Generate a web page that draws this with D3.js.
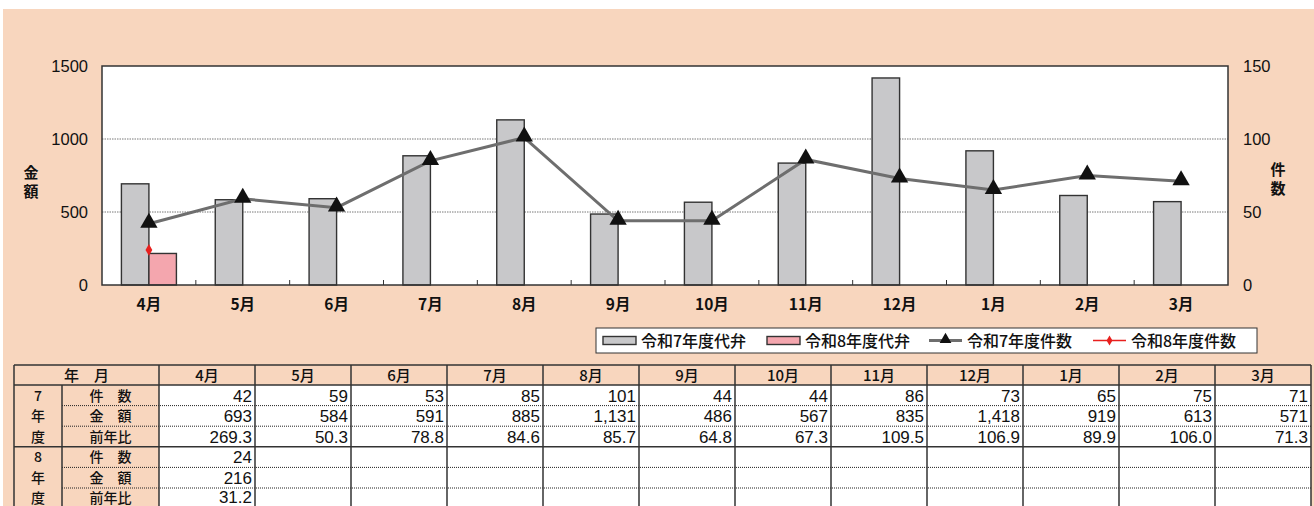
<!DOCTYPE html>
<html>
<head>
<meta charset="utf-8">
<script src="https://cdn.jsdelivr.net/npm/d3@7"></script>
<style>
  body { margin: 0; background: #fff; }
  svg text { font-family: "Liberation Sans", Arial, sans-serif; }
  .jp { font-family: "Noto Sans CJK JP", sans-serif; }
</style>
</head>
<body>
<svg width="1314" height="506"></svg>
<script>
// Data
let months = ["4月", "5月", "6月", "7月", "8月", "9月", "10月", "11月", "12月", "1月", "2月", "3月"];
let r7Count = [42, 59, 53, 85, 101, 44, 44, 86, 73, 65, 75, 71];
let r7Amount = [693, 584, 591, 885, 1131, 486, 567, 835, 1418, 919, 613, 571];
let r7Ratio = [269.3, 50.3, 78.8, 84.6, 85.7, 64.8, 67.3, 109.5, 106.9, 89.9, 106.0, 71.3];
let r8Count = [24];
let r8Amount = [216];
let r8Ratio = [31.2];
let leftTicks = [0, 500, 1000, 1500];
let rightTicks = [0, 50, 100, 150];
let seriesNames = ["令和7年度代弁", "令和8年度代弁", "令和7年度件数", "令和8年度件数"];

let peach = "#F8D6BE";
let greyBar = "#C8C8CA";
let pinkBar = "#F4A6AE";
let lineGrey = "#6E6E6E";
let red = "#E8201E";
let dark = "#333";

let svg = d3.select("svg");

// background panel
svg.append("rect")
  .attr("x", 3).attr("y", 9)
  .attr("width", 1311).attr("height", 497)
  .attr("fill", peach);

// Plot area
let plot = { left: 102, right: 1228, top: 66, bottom: 285 };

let x = d3.scaleBand().domain(months).range([plot.left, plot.right]);
let sub = d3.scaleBand().domain(["r7", "r8"]).range([0, 55]);
let yL = d3.scaleLinear().domain([0, 1500]).range([plot.bottom, plot.top]);
let yR = d3.scaleLinear().domain([0, 150]).range([plot.bottom, plot.top]);

svg.append("rect")
  .attr("x", plot.left).attr("y", plot.top)
  .attr("width", plot.right - plot.left).attr("height", plot.bottom - plot.top)
  .attr("fill", "#fff");

// grid lines
svg.append("g").selectAll("line")
  .data(leftTicks.filter(d => d > 0 && d < 1500))
  .enter().append("line")
  .attr("x1", plot.left).attr("x2", plot.right)
  .attr("y1", d => yL(d)).attr("y2", d => yL(d))
  .attr("stroke", "#555").attr("stroke-width", 0.8)
  .attr("stroke-dasharray", "1.5,1");

// bars
let barG = svg.append("g");
barG.selectAll(".r7").data(r7Amount).enter().append("rect")
  .attr("x", (d, i) => x(months[i]) + x.bandwidth() / 2 - 27.5 + sub("r7"))
  .attr("y", d => yL(d))
  .attr("width", sub.bandwidth())
  .attr("height", d => plot.bottom - yL(d))
  .attr("fill", greyBar).attr("stroke", dark).attr("stroke-width", 1.4);
barG.selectAll(".r8").data(r8Amount).enter().append("rect")
  .attr("x", (d, i) => x(months[i]) + x.bandwidth() / 2 - 27.5 + sub("r8"))
  .attr("y", d => yL(d))
  .attr("width", sub.bandwidth())
  .attr("height", d => plot.bottom - yL(d))
  .attr("fill", pinkBar).attr("stroke", dark).attr("stroke-width", 1.4);

// frame
svg.append("rect")
  .attr("x", plot.left).attr("y", plot.top)
  .attr("width", plot.right - plot.left).attr("height", plot.bottom - plot.top)
  .attr("fill", "none").attr("stroke", dark).attr("stroke-width", 1.5);

// x tick marks (inside)
svg.append("g").selectAll("line")
  .data(months.slice(1))
  .enter().append("line")
  .attr("x1", d => x(d)).attr("x2", d => x(d))
  .attr("y1", plot.bottom).attr("y2", plot.bottom - 5)
  .attr("stroke", dark).attr("stroke-width", 1);

// line R7
let line = d3.line()
  .x((d, i) => x(months[i]) + x.bandwidth() / 2)
  .y(d => yR(d));
svg.append("path")
  .datum(r7Count)
  .attr("d", line)
  .attr("fill", "none").attr("stroke", lineGrey).attr("stroke-width", 3);

let tri = d3.symbol().type(d3.symbolTriangle).size(130);
svg.append("g").selectAll("path")
  .data(r7Count).enter().append("path")
  .attr("d", tri)
  .attr("transform", (d, i) => "translate(" + (x(months[i]) + x.bandwidth() / 2) + "," + (yR(d) - 1) + ")")
  .attr("fill", "#111");

// R8 count
let dia = d3.symbol().type(d3.symbolDiamond).size(40);
svg.append("g").selectAll("path")
  .data(r8Count).enter().append("path")
  .attr("d", dia)
  .attr("transform", (d, i) => "translate(" + (x(months[i]) + x.bandwidth() / 2) + "," + yR(d) + ")")
  .attr("fill", red);

// left axis labels
svg.append("g").selectAll("text")
  .data(leftTicks).enter().append("text")
  .attr("x", 88).attr("y", d => yL(d) + 6)
  .attr("text-anchor", "end")
  .attr("font-size", 16.5)
  .attr("fill", "#111")
  .text(d => d);

// right axis labels
svg.append("g").selectAll("text")
  .data(rightTicks).enter().append("text")
  .attr("x", 1243).attr("y", d => yR(d) + 6)
  .attr("text-anchor", "start")
  .attr("font-size", 16.5)
  .attr("fill", "#111")
  .text(d => d);

// vertical axis titles
["金", "額"].forEach((c, i) => {
  svg.append("text").attr("class", "jp")
    .attr("x", 31).attr("y", 178 + i * 19)
    .attr("text-anchor", "middle").attr("font-size", 15).attr("font-weight", "bold")
    .attr("fill", "#111").text(c);
});
["件", "数"].forEach((c, i) => {
  svg.append("text").attr("class", "jp")
    .attr("x", 1278).attr("y", 175 + i * 19)
    .attr("text-anchor", "middle").attr("font-size", 15).attr("font-weight", "bold")
    .attr("fill", "#111").text(c);
});

// x labels
svg.append("g").selectAll("text")
  .data(months).enter().append("text")
  .attr("class", "jp")
  .attr("x", d => x(d) + x.bandwidth() / 2)
  .attr("y", 310)
  .attr("text-anchor", "middle")
  .attr("font-size", 15.5).attr("font-weight", "bold")
  .attr("fill", "#111")
  .text(d => d);

// Legend
let lg = svg.append("g");
lg.append("rect")
  .attr("x", 596).attr("y", 328).attr("width", 661).attr("height", 25)
  .attr("fill", "#fff").attr("stroke", dark).attr("stroke-width", 1);
let legendX = [603, 767, 929, 1093];
let ly = 340.5;
lg.append("rect").attr("x", legendX[0]).attr("y", ly - 4).attr("width", 33).attr("height", 8)
  .attr("fill", greyBar).attr("stroke", dark).attr("stroke-width", 1.4);
lg.append("rect").attr("x", legendX[1]).attr("y", ly - 4).attr("width", 33).attr("height", 8)
  .attr("fill", pinkBar).attr("stroke", dark).attr("stroke-width", 1.4);
lg.append("line").attr("x1", legendX[2]).attr("x2", legendX[2] + 33).attr("y1", ly).attr("y2", ly)
  .attr("stroke", lineGrey).attr("stroke-width", 3);
lg.append("path").attr("d", d3.symbol().type(d3.symbolTriangle).size(60))
  .attr("transform", "translate(" + (legendX[2] + 16.5) + "," + (ly - 1) + ")").attr("fill", "#111");
lg.append("line").attr("x1", legendX[3]).attr("x2", legendX[3] + 33).attr("y1", ly).attr("y2", ly)
  .attr("stroke", red).attr("stroke-width", 1.5);
lg.append("path").attr("d", d3.symbol().type(d3.symbolDiamond).size(30))
  .attr("transform", "translate(" + (legendX[3] + 16.5) + "," + ly + ")").attr("fill", red);
lg.selectAll(".lt").data(seriesNames).enter().append("text")
  .attr("class", "jp")
  .attr("x", (d, i) => legendX[i] + 38)
  .attr("y", ly + 6)
  .attr("font-size", 16).attr("font-weight", 500)
  .attr("fill", "#111")
  .text(d => d);

// Table
let tbl = svg.append("g");
let colX = d3.scaleBand().domain(months).range([159, 1311]);
let tLeft = 14, tMid = 62, tLab = 159, tRight = 1311;
let headTop = 365, headBot = 385;
let rowH = 20.6;
let groupTop = [headBot, headBot + rowH * 3];
let groups = [
  { label: ["7", "年", "度"], rows: [r7Count, r7Amount, r7Ratio] },
  { label: ["8", "年", "度"], rows: [r8Count, r8Amount, r8Ratio] }
];
let rowLabels = ["件　数", "金　額", "前年比"];
let fmt = [d3.format(","), d3.format(","), d3.format(".1f")];

// header and label backgrounds
tbl.append("rect").attr("x", tLeft).attr("y", headTop).attr("width", tRight - tLeft).attr("height", headBot - headTop)
  .attr("fill", peach);
tbl.append("rect").attr("x", tLab).attr("y", headBot).attr("width", tRight - tLab).attr("height", 506 - headBot)
  .attr("fill", "#fff");

let cellFont = "'Liberation Sans Narrow', 'Liberation Sans', sans-serif";

// header text
tbl.append("text").attr("class", "jp")
  .attr("x", (tLeft + tLab) / 2).attr("y", headBot - 4)
  .attr("text-anchor", "middle").attr("font-size", 15).attr("font-weight", 500).attr("fill", "#111")
  .text("年　月");
tbl.selectAll(".hd").data(months).enter().append("text")
  .attr("class", "jp")
  .attr("x", d => colX(d) + colX.bandwidth() / 2)
  .attr("y", headBot - 4)
  .attr("text-anchor", "middle").attr("font-size", 15).attr("font-weight", 500).attr("fill", "#111")
  .text(d => d);

groups.forEach((g, gi) => {
  let top = groupTop[gi];
  g.label.forEach((c, ri) => {
    tbl.append("text").attr("class", "jp")
      .attr("x", (tLeft + tMid) / 2).attr("y", Math.min(top + rowH * ri + 15.5, 503))
      .attr("text-anchor", "middle").attr("font-size", 14).attr("font-weight", 500).attr("fill", "#111")
      .text(c);
  });
  rowLabels.forEach((c, ri) => {
    tbl.append("text").attr("class", "jp")
      .attr("x", (tMid + tLab) / 2).attr("y", Math.min(top + rowH * ri + 15.5, 503))
      .attr("text-anchor", "middle").attr("font-size", 14).attr("font-weight", 500).attr("fill", "#111")
      .text(c);
  });
  g.rows.forEach((vals, ri) => {
    tbl.selectAll(".v" + gi + ri).data(vals).enter().append("text")
      .attr("x", (d, i) => colX(months[i]) + colX.bandwidth() - 3)
      .attr("y", Math.min(top + rowH * ri + 16.5, 503))
      .attr("text-anchor", "end").attr("font-size", 17)
      .style("font-family", cellFont)
      .attr("fill", "#111")
      .text(d => fmt[ri](d));
    if (ri > 0) {
      tbl.append("line")
        .attr("x1", tMid).attr("x2", tRight)
        .attr("y1", top + rowH * ri).attr("y2", top + rowH * ri)
        .attr("stroke", "#222").attr("stroke-width", 1)
        .attr("stroke-dasharray", "1,1");
    }
  });
});

// solid borders
let hLines = [headTop, headBot, groupTop[1]];
tbl.selectAll(".hl").data(hLines).enter().append("line")
  .attr("x1", tLeft).attr("x2", tRight)
  .attr("y1", d => d).attr("y2", d => d)
  .attr("stroke", dark).attr("stroke-width", 1.5);
let vLines = [tLeft, tLab].concat(months.map(m => colX(m) + colX.bandwidth()));
tbl.selectAll(".vl").data(vLines).enter().append("line")
  .attr("x1", d => d).attr("x2", d => d)
  .attr("y1", headTop).attr("y2", 506)
  .attr("stroke", dark).attr("stroke-width", 1.5);
tbl.append("line")
  .attr("x1", tMid).attr("x2", tMid)
  .attr("y1", headBot).attr("y2", 506)
  .attr("stroke", dark).attr("stroke-width", 1.5);
</script>
</body>
</html>
